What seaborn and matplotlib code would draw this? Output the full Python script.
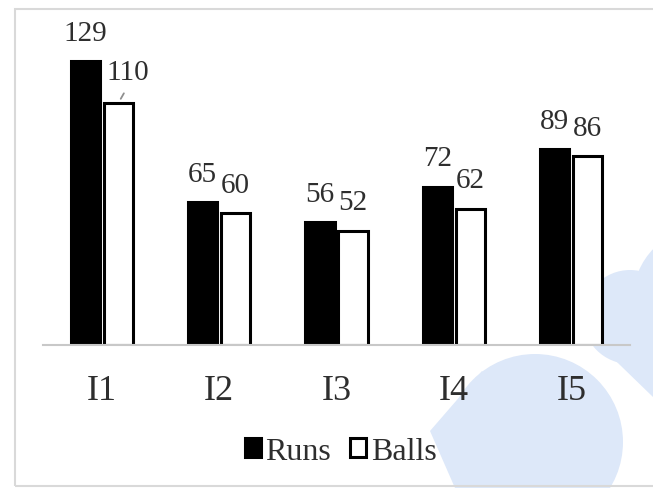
import pandas as pd
import seaborn as sns
import matplotlib.pyplot as plt
from matplotlib.patches import Rectangle, Ellipse, Polygon

innings = ['I1', 'I2', 'I3', 'I4', 'I5']
runs = [129, 65, 56, 72, 89]
balls = [110, 60, 52, 62, 86]
series = ['Runs', 'Balls']

W, H = 653, 489


def px(x, y):
    # image pixel -> figure fraction
    return (x / W, 1 - y / H)


df = pd.DataFrame({
    'inning': innings * 2,
    'value': runs + balls,
    'type': ['Runs'] * len(innings) + ['Balls'] * len(innings),
})

sns.set_style('white')
plt.rcParams['font.family'] = ['Liberation Serif', 'DejaVu Serif']
txt_color = '#2e2e2e'

fig = plt.figure(figsize=(W / 100, H / 100), dpi=100)

# watermark shapes in the background
wm = '#dde8f9'
for cx, cy, r in [(535, 443, 88), (630, 318, 47), (705, 300, 72)]:
    x0, y0 = px(cx, cy)
    fig.patches.append(Ellipse((x0, y0), 2 * r / W, 2 * r / H, transform=fig.transFigure,
                               facecolor=wm, edgecolor='none', zorder=-5))
fig.patches.append(Polygon([px(430, 432), px(482, 372), px(540, 440), px(470, 489), px(455, 489)],
                           closed=True, transform=fig.transFigure, facecolor=wm, edgecolor='none', zorder=-5))
fig.patches.append(Polygon([px(588, 335), px(625, 300), px(653, 300), px(653, 398)],
                           closed=True, transform=fig.transFigure, facecolor=wm, edgecolor='none', zorder=-5))

# outer chart frame
fx, fy = px(14.5, 487)
fig.patches.append(Rectangle((fx, fy), 1.0, (487 - 10) / H, transform=fig.transFigure,
                             facecolor='none', edgecolor='#d9d9d9', linewidth=1.5, zorder=-4))

ax = fig.add_axes([43 / W, (H - 346) / H, (630 - 43) / W, (346 - 38) / H])
ax.patch.set_alpha(0)

sns.barplot(data=df, x='inning', y='value', hue='type', hue_order=series,
            palette=['black', 'white'], edgecolor='black', linewidth=2.2,
            width=0.562, gap=0.12, ax=ax)

ax.set_ylim(0, 140)
ax.set_xlim(-0.5, 4.5)
ax.set_xlabel('')
ax.set_ylabel('')
ax.set_yticks([])
for s in ['left', 'right', 'top']:
    ax.spines[s].set_visible(False)
ax.spines['bottom'].set_color('#c8c8c8')
ax.spines['bottom'].set_linewidth(1.5)
ax.tick_params(axis='x', length=0, pad=21, labelsize=26, labelcolor=txt_color)

# value labels
for cont, vals in zip(ax.containers, [runs, balls]):
    for bar, v in zip(cont, vals):
        x = bar.get_x() + bar.get_width() / 2
        if v == 110:
            ax.annotate(str(v), xy=(x, v), xytext=(7, 13), textcoords='offset points',
                        ha='center', va='bottom', fontsize=21, color=txt_color)
            ax.annotate('', xy=(x + 0.01, v + 0.8), xytext=(x + 0.06, v + 5.5),
                        arrowprops=dict(arrowstyle='-', color='#8f8f8f', lw=1.3))
        else:
            ax.annotate(str(v), xy=(x, v), xytext=(0, 11), textcoords='offset points',
                        ha='center', va='bottom', fontsize=21, color=txt_color)

handles, labels = ax.get_legend_handles_labels()
ax.legend_.remove()
fig.legend(handles, labels, loc='center', bbox_to_anchor=(0.522, 0.075), ncol=2, frameon=False,
           fontsize=23, handlelength=0.5, handleheight=0.5, handletextpad=0.15,
           columnspacing=0.6, labelcolor=txt_color)

fig.savefig('out.png', dpi=100)
